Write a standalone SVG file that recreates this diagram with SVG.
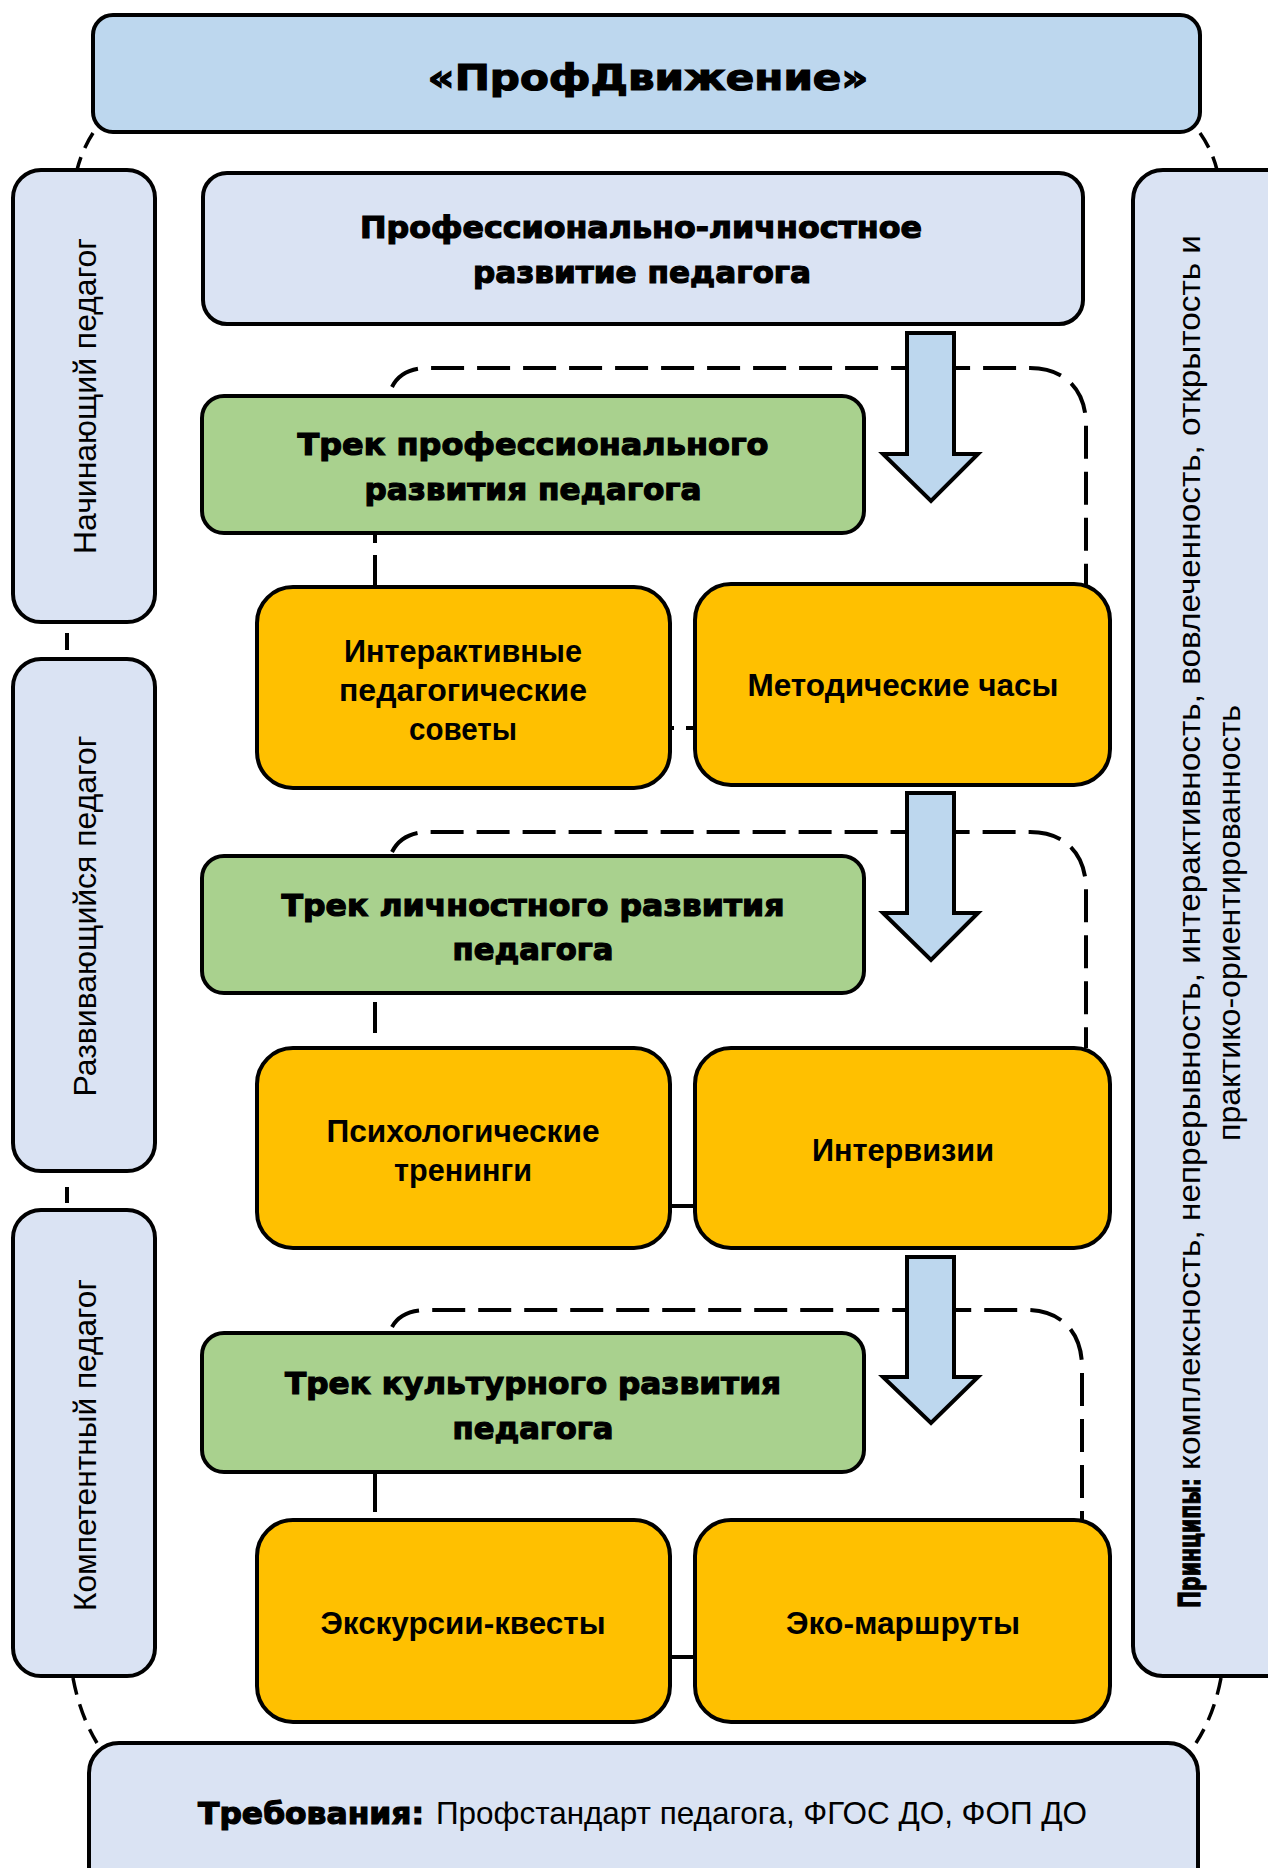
<svg xmlns="http://www.w3.org/2000/svg" width="1268" height="1868" viewBox="0 0 1268 1868">
<style>
.box{stroke:#000;stroke-width:4}
.title{fill:#BDD7EE}
.pale{fill:#DAE3F3}
.green{fill:#A9D18E}
.orange{fill:#FFC000}
.arrow{fill:#BDD7EE;stroke:#000;stroke-width:4;stroke-linejoin:miter}
.dash{fill:none;stroke:#000;stroke-width:4;stroke-dasharray:33 13}
.odash{fill:none;stroke:#000;stroke-width:3.5;stroke-dasharray:17 10}
.line{fill:none;stroke:#000;stroke-width:4}
.hv{font-family:"DejaVu Sans","Liberation Sans",sans-serif;font-weight:bold;fill:#000;stroke:#000;stroke-width:1.2}
.bd{font-family:"Liberation Sans",Arial,sans-serif;font-weight:bold;font-size:31px;fill:#000}
.rg{font-family:"Liberation Sans",Arial,sans-serif;font-size:32px;fill:#000}
</style>
<rect width="1268" height="1868" fill="#fff"/>
<g id="connectors">
<path class="odash" d="M 93 133 Q 82 150 77 170"/>
<path class="odash" d="M 1200 133 Q 1212 150 1217 170"/>
<path class="odash" d="M 73 1678 Q 80 1715 97 1743"/>
<path class="odash" d="M 1221 1678 Q 1214 1715 1196 1743"/>
<line class="line" x1="67" y1="633" x2="67" y2="650"/>
<line class="line" x1="67" y1="1187" x2="67" y2="1203"/>
<path class="dash" d="M 392 387 C 398 375 410 368 428 368 L 1030 368 C 1065 368 1086 390 1086 425 L 1086 587"/>
<path class="dash" d="M 392 852 C 398 840 410 832 428 832 L 1030 832 C 1065 832 1086 854 1086 889 L 1086 1048"/>
<path class="dash" d="M 392 1327 C 398 1316 410 1310 428 1310 L 1026 1310 C 1061 1310 1082 1332 1082 1367 L 1082 1520"/>
<line class="line" x1="375" y1="533" x2="375" y2="543"/>
<line class="line" x1="375" y1="555" x2="375" y2="587"/>
<line class="line" x1="375" y1="1002" x2="375" y2="1033"/>
<line class="line" x1="375" y1="1472" x2="375" y2="1512"/>
<line class="line" x1="670" y1="728" x2="674" y2="728"/>
<line class="line" x1="686" y1="728" x2="695" y2="728"/>
<line class="line" x1="670" y1="1206" x2="695" y2="1206"/>
<line class="line" x1="670" y1="1657" x2="695" y2="1657"/>
</g>
<g id="arrows">
<path class="arrow" d="M 907 333 H 954 V 454 H 978 L 931 501 L 883 454 H 907 Z"/>
<path class="arrow" d="M 907 793 H 954 V 913 H 978 L 931 960 L 883 913 H 907 Z"/>
<path class="arrow" d="M 907 1257 H 954 V 1377 H 978 L 931 1423 L 883 1377 H 907 Z"/>
</g>
<g id="title">
<rect class="box title" x="93" y="15" width="1107" height="117" rx="20"/>
<text class="hv" x="648" y="90" font-size="36" text-anchor="middle" textLength="441" lengthAdjust="spacingAndGlyphs">«ПрофДвижение»</text>
</g>
<g id="main">
<rect class="box pale" x="203" y="173" width="880" height="151" rx="24"/>
<text class="hv" x="641" y="238" font-size="30" text-anchor="middle" textLength="562" lengthAdjust="spacingAndGlyphs">Профессионально-личностное</text>
<text class="hv" x="642" y="283" font-size="30" text-anchor="middle" textLength="338" lengthAdjust="spacingAndGlyphs">развитие педагога</text>
</g>
<g id="level1">
<rect class="box pale" x="13" y="170" width="142" height="452" rx="28"/>
<text class="rg" transform="translate(96,396) rotate(-90)" text-anchor="middle" textLength="316" lengthAdjust="spacingAndGlyphs">Начинающий педагог</text>
</g>
<g id="level2">
<rect class="box pale" x="13" y="659" width="142" height="512" rx="28"/>
<text class="rg" transform="translate(96,916) rotate(-90)" text-anchor="middle" textLength="361" lengthAdjust="spacingAndGlyphs">Развивающийся педагог</text>
</g>
<g id="level3">
<rect class="box pale" x="13" y="1210" width="142" height="466" rx="28"/>
<text class="rg" transform="translate(96,1445) rotate(-90)" text-anchor="middle" textLength="332" lengthAdjust="spacingAndGlyphs">Компетентный педагог</text>
</g>
<g id="principles">
<rect class="box pale" x="1133" y="170" width="200" height="1506" rx="30"/>
<text class="hv" transform="translate(1200,923) rotate(-90)" x="-685" font-size="30" textLength="130" lengthAdjust="spacingAndGlyphs">Принципы:</text>
<text class="rg" transform="translate(1200,923) rotate(-90)" x="-547" textLength="1235" lengthAdjust="spacingAndGlyphs">комплексность, непрерывность, интерактивность, вовлеченность, открытость и</text>
<text class="rg" transform="translate(1240,923) rotate(-90)" text-anchor="middle" textLength="436" lengthAdjust="spacingAndGlyphs">практико-ориентированность</text>
</g>
<g id="track1">
<rect class="box green" x="202" y="396" width="662" height="137" rx="22"/>
<text class="hv" x="533" y="455" font-size="30" text-anchor="middle" textLength="471" lengthAdjust="spacingAndGlyphs">Трек профессионального</text>
<text class="hv" x="533" y="500" font-size="30" text-anchor="middle" textLength="337" lengthAdjust="spacingAndGlyphs">развития педагога</text>
</g>
<g id="interactive">
<rect class="box orange" x="257" y="587" width="413" height="201" rx="36"/>
<text class="bd" x="463" y="662" text-anchor="middle" textLength="238" lengthAdjust="spacingAndGlyphs">Интерактивные</text>
<text class="bd" x="463" y="701" text-anchor="middle" textLength="248" lengthAdjust="spacingAndGlyphs">педагогические</text>
<text class="bd" x="463" y="740" text-anchor="middle" textLength="108" lengthAdjust="spacingAndGlyphs">советы</text>
</g>
<g id="method">
<rect class="box orange" x="695" y="584" width="415" height="201" rx="36"/>
<text class="bd" x="903" y="696" text-anchor="middle" textLength="311" lengthAdjust="spacingAndGlyphs">Методические часы</text>
</g>
<g id="track2">
<rect class="box green" x="202" y="856" width="662" height="137" rx="22"/>
<text class="hv" x="533" y="916" font-size="30" text-anchor="middle" textLength="503" lengthAdjust="spacingAndGlyphs">Трек личностного развития</text>
<text class="hv" x="533" y="960" font-size="30" text-anchor="middle" textLength="161" lengthAdjust="spacingAndGlyphs">педагога</text>
</g>
<g id="psych">
<rect class="box orange" x="257" y="1048" width="413" height="200" rx="36"/>
<text class="bd" x="463" y="1142" text-anchor="middle" textLength="273" lengthAdjust="spacingAndGlyphs">Психологические</text>
<text class="bd" x="463" y="1181" text-anchor="middle" textLength="138" lengthAdjust="spacingAndGlyphs">тренинги</text>
</g>
<g id="intervision">
<rect class="box orange" x="695" y="1048" width="415" height="200" rx="36"/>
<text class="bd" x="903" y="1161" text-anchor="middle" textLength="182" lengthAdjust="spacingAndGlyphs">Интервизии</text>
</g>
<g id="track3">
<rect class="box green" x="202" y="1333" width="662" height="139" rx="22"/>
<text class="hv" x="533" y="1394" font-size="30" text-anchor="middle" textLength="496" lengthAdjust="spacingAndGlyphs">Трек культурного развития</text>
<text class="hv" x="533" y="1439" font-size="30" text-anchor="middle" textLength="161" lengthAdjust="spacingAndGlyphs">педагога</text>
</g>
<g id="excursions">
<rect class="box orange" x="257" y="1520" width="413" height="202" rx="36"/>
<text class="bd" x="463" y="1634" text-anchor="middle" textLength="285" lengthAdjust="spacingAndGlyphs">Экскурсии-квесты</text>
</g>
<g id="eco">
<rect class="box orange" x="695" y="1520" width="415" height="202" rx="36"/>
<text class="bd" x="903" y="1634" text-anchor="middle" textLength="234" lengthAdjust="spacingAndGlyphs">Эко-маршруты</text>
</g>
<g id="requirements">
<rect class="box pale" x="89" y="1743" width="1109" height="200" rx="30"/>
<text class="hv" x="198" y="1824" font-size="30" textLength="226" lengthAdjust="spacingAndGlyphs">Требования:</text>
<text class="rg" x="436" y="1824" textLength="651" lengthAdjust="spacingAndGlyphs">Профстандарт педагога, ФГОС ДО, ФОП ДО</text>
</g>
</svg>
